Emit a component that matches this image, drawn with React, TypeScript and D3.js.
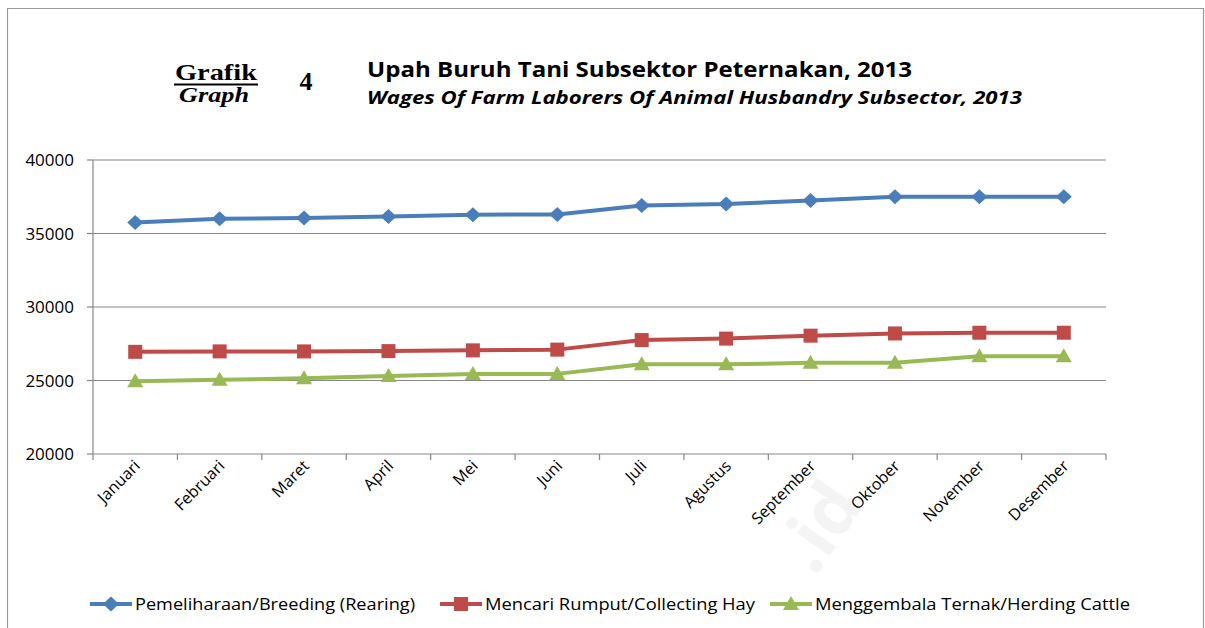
import React from "react";
import * as d3 from "d3";

const months = ["Januari", "Februari", "Maret", "April", "Mei", "Juni", "Juli", "Agustus", "September", "Oktober", "November", "Desember"];
const breeding = [35750, 36000, 36050, 36150, 36280, 36300, 36900, 37000, 37250, 37500, 37500, 37500];
const collectingHay = [26950, 26980, 26980, 27000, 27050, 27100, 27750, 27850, 28050, 28200, 28250, 28250];
const herding = [24950, 25050, 25150, 25300, 25450, 25450, 26100, 26100, 26200, 26200, 26650, 26650];
const seriesNames = ["Pemeliharaan/Breeding (Rearing)", "Mencari Rumput/Collecting Hay", "Menggembala Ternak/Herding Cattle"];
const yTicks = [20000, 25000, 30000, 35000, 40000];

const W = 1205;
const H = 628;
const font = "'Open Sans', 'Noto Sans', sans-serif";
const gridColor = "#888888";

const series = [
  { name: seriesNames[0], values: breeding, color: "#4A7EBB", marker: "diamond" },
  { name: seriesNames[1], values: collectingHay, color: "#BE4B48", marker: "square" },
  { name: seriesNames[2], values: herding, color: "#98B954", marker: "triangle" },
];

const markerPath = (type: string, cx: number, cy: number): string => {
  if (type === "diamond") {
    return `M${cx - 8},${cy}L${cx},${cy - 7.5}L${cx + 8},${cy}L${cx},${cy + 7.5}Z`;
  }
  if (type === "square") {
    return `M${cx - 7},${cy - 7}h14v14h-14Z`;
  }
  return `M${cx},${cy - 8}L${cx + 8},${cy + 6}L${cx - 8},${cy + 6}Z`;
};

const App = () => {
  const x = d3.scaleBand<string>().domain(months).range([93, 1106]);
  const y = d3.scaleLinear().domain([20000, 40000]).range([454, 160]);
  const cx = (m: string) => (x(m) as number) + x.bandwidth() / 2;

  const line = d3
    .line<number>()
    .x((_, i) => cx(months[i]))
    .y((d) => y(d));

  const bounds = months.map((m) => x(m) as number).concat([1106]);

  const legendX = [90, 440, 770];
  const legendLen = [280, 270, 315];

  return (
    <svg width={W} height={H} style={{ position: "absolute", left: 0, top: 0, background: "#fff" }} fontFamily={font}>
      <rect x={0} y={0} width={W} height={H} fill="#fff" />
      {/* frame */}
      <path d={`M7.5,${H}V8.5H1203.5V${H}`} fill="none" stroke="#9a9a9a" strokeWidth={1.2} />

      {/* faint watermark */}
      <text x={865} y={505} transform="rotate(-55 865 505)" textAnchor="end" fontSize={72} fontWeight="bold" fill="#f4f4f4">
        .id
      </text>

      {/* heading */}
      <text x={175} y={80} fontFamily="'Liberation Serif', serif" fontWeight="bold" fontSize={23} textLength={82} lengthAdjust="spacingAndGlyphs">
        Grafik
      </text>
      <line x1={174} x2={258} y1={84.5} y2={84.5} stroke="#000" strokeWidth={2} />
      <text x={179} y={102} fontFamily="'Liberation Serif', serif" fontWeight="bold" fontStyle="italic" fontSize={20} textLength={70} lengthAdjust="spacingAndGlyphs">
        Graph
      </text>
      <text x={306} y={90} textAnchor="middle" fontFamily="'Liberation Serif', serif" fontWeight="bold" fontSize={26}>
        4
      </text>
      <text x={367} y={77} fontWeight="bold" fontSize={21} textLength={545} lengthAdjust="spacingAndGlyphs">
        Upah Buruh Tani Subsektor Peternakan, 2013
      </text>
      <text x={367} y={104} fontWeight="bold" fontStyle="italic" fontSize={17} textLength={655} lengthAdjust="spacingAndGlyphs">
        Wages Of Farm Laborers Of  Animal Husbandry Subsector, 2013
      </text>

      {/* gridlines */}
      {yTicks.slice(1).map((t) => (
        <line key={t} x1={93} x2={1106} y1={y(t)} y2={y(t)} stroke={gridColor} strokeWidth={1.2} />
      ))}
      {/* y axis */}
      <line x1={93} x2={93} y1={160} y2={454} stroke={gridColor} strokeWidth={1.2} />
      {yTicks.map((t) => (
        <g key={t}>
          <line x1={87} x2={93} y1={y(t)} y2={y(t)} stroke={gridColor} strokeWidth={1.2} />
          <text x={74} y={y(t)} dy="0.36em" textAnchor="end" fontSize={17}>
            {t}
          </text>
        </g>
      ))}
      {/* x axis */}
      <line x1={93} x2={1106} y1={454} y2={454} stroke={gridColor} strokeWidth={1.2} />
      {bounds.map((b, i) => (
        <line key={i} x1={b} x2={b} y1={454} y2={460} stroke={gridColor} strokeWidth={1.2} />
      ))}
      {months.map((m) => (
        <text key={m} transform={`translate(${cx(m) + 6},${467}) rotate(-45)`} textAnchor="end" fontSize={16}>
          {m}
        </text>
      ))}

      {/* series */}
      {series.map((s) => (
        <g key={s.name}>
          <path d={line(s.values) as string} fill="none" stroke={s.color} strokeWidth={4} strokeLinejoin="round" />
          {s.values.map((v, i) => (
            <path key={i} d={markerPath(s.marker, cx(months[i]), y(v))} fill={s.color} />
          ))}
        </g>
      ))}

      {/* legend */}
      {series.map((s, i) => (
        <g key={s.name}>
          <line x1={legendX[i]} x2={legendX[i] + 42} y1={604} y2={604} stroke={s.color} strokeWidth={4} />
          <path d={markerPath(s.marker, legendX[i] + 21, 604)} fill={s.color} />
          <text x={legendX[i] + 45} y={604} dy="0.36em" fontSize={17} textLength={legendLen[i]} lengthAdjust="spacingAndGlyphs">
            {s.name}
          </text>
        </g>
      ))}
    </svg>
  );
};

export default App;
